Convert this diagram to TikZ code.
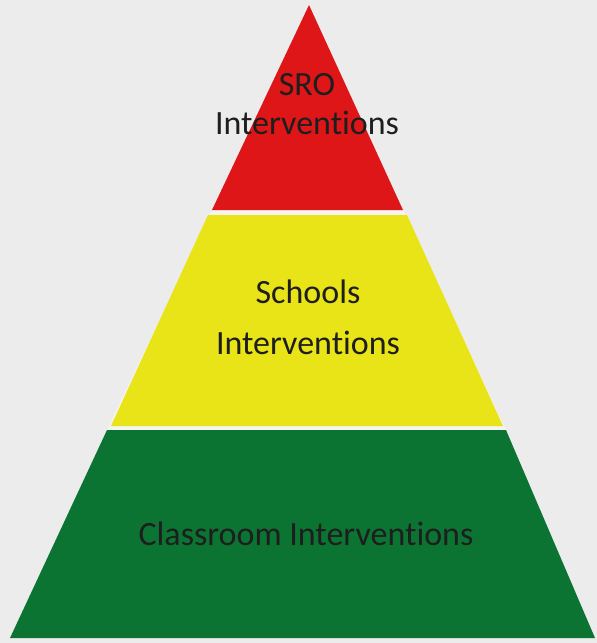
\documentclass[tikz,border=0pt]{standalone}
\usepackage{fontspec}
\setmainfont[Ligatures={NoCommon}]{Carlito}
\usepackage{xcolor}

\definecolor{paper}{RGB}{236,236,236}
\definecolor{gapwhite}{RGB}{246,244,238}
\definecolor{srored}{RGB}{222,22,24}
\definecolor{schoolyellow}{RGB}{232,228,24}
\definecolor{classgreen}{RGB}{12,116,50}
\definecolor{labelgrey}{RGB}{30,30,30}

\begin{document}
\begin{tikzpicture}[x=1pt, y=-1pt,
    band/.style={draw=none},
    tierlabel/.style={anchor=base, text=labelgrey, font=\fontsize{34}{34}\selectfont, inner sep=0pt}]

                % Background
                \fill[paper] (0,0) rectangle (597,643);
                \useasboundingbox (0,0) rectangle (597,643);
                \fill[gapwhite] (212,210) -- (403,210) -- (506,430) -- (107,430) -- cycle;

                % Bands
                \fill[band, srored] (309,5) -- (403,210) -- (212,210) -- cycle;
                \fill[band, schoolyellow] (208,215) -- (407,215) -- (503,426) -- (111,426) -- cycle;
                \fill[band, classgreen] (107,430) -- (506,430) -- (595,638) -- (10,638) -- cycle;

                % Labels
                \node[tierlabel] (sro) at (307,95) {SRO};
                \node[tierlabel] (sroint) at (307,134) {Interventions};
                \node[tierlabel] (schools) at (308,303) {Schools};
                \node[tierlabel] (schoolsint) at (308,354) {Interventions};
                \node[tierlabel] (classroom) at (306,545) {Classroom Interventions};

            \end{tikzpicture}
\end{document}
